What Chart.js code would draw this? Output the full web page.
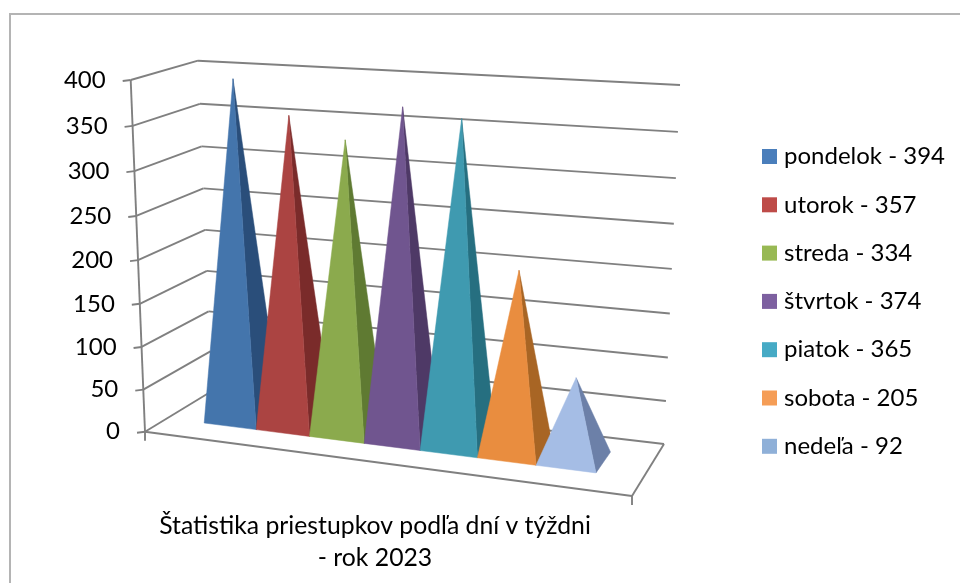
<!DOCTYPE html>
<html>
<head>
<meta charset="utf-8">
<script src="https://cdn.jsdelivr.net/npm/chart.js@4"></script>
<style>
  html, body { margin: 0; background: #fff; }
  canvas { display: block; }
</style>
</head>
<body>
<canvas id="chart" width="960" height="583"></canvas>
<script>
const days = ["pondelok", "utorok", "streda", "štvrtok", "piatok", "sobota", "nedeľa"];
const counts = [394, 357, 334, 374, 365, 205, 92];
const frontColors = ["#4475AC", "#AB4442", "#8BAA4D", "#70558F", "#3F9AB0", "#E98D3F", "#A5BDE5"];
const sideColors = ["#2A4E7A", "#7A2B2A", "#5F7A32", "#4E3966", "#266F80", "#A86524", "#6C80A8"];
const legendColors = ["#4A7EBB", "#BE4B48", "#98B954", "#7D60A0", "#46AAC5", "#F59D56", "#8FB0D8"];
const titleLines = ["Štatistika priestupkov podľa dní v týždni", "- rok 2023"];

const GRID = "#808080";
const FONT = "Lato";

// corners of the 3d box on screen: front/back, left/right, floor/top
const box = {
  fl0: [145, 431.7], fr0: [632, 496], bl0: [212, 391], br0: [664, 444],
  fl1: [130.7, 80], fr1: [648, 111], bl1: [198, 60.7], br1: [680, 85]
};

function mix(a, b, t) {
  return [a[0] + (b[0] - a[0]) * t, a[1] + (b[1] - a[1]) * t];
}

// u along the days, w into the depth, t up the value axis (all 0..1)
function project(u, w, t) {
  const h = t / (t + 1.05 * (1 - t)); // slight perspective on the height
  const floor = mix(mix(box.fl0, box.fr0, u), mix(box.bl0, box.br0, u), w);
  const top = mix(mix(box.fl1, box.fr1, u), mix(box.bl1, box.br1, u), w);
  return mix(floor, top, h);
}

function line(ctx, a, b) {
  ctx.beginPath();
  ctx.moveTo(a[0], a[1]);
  ctx.lineTo(b[0], b[1]);
  ctx.stroke();
}

function face(ctx, pts, color) {
  ctx.fillStyle = color;
  ctx.strokeStyle = color;
  ctx.lineWidth = 0.5;
  ctx.beginPath();
  pts.forEach((p, i) => i ? ctx.lineTo(p[0], p[1]) : ctx.moveTo(p[0], p[1]));
  ctx.closePath();
  ctx.fill();
  ctx.stroke();
}

const pyramid3d = {
  id: "pyramid3d",
  beforeDatasetsDraw(chart) {
    const ctx = chart.ctx;
    const yScale = chart.scales.y;
    const xScale = chart.scales.x;
    const yFrac = v => (yScale.bottom - yScale.getPixelForValue(v)) / (yScale.bottom - yScale.top);
    // days are a bit wider towards the viewer, on the right
    const uFrac = px => {
      const f = (px - xScale.left) / xScale.width;
      return 0.078 + 0.756 * f + 0.068 * f * f;
    };

    ctx.save();

    // outer frame
    ctx.strokeStyle = "#B4B4B4";
    ctx.lineWidth = 2;
    ctx.beginPath();
    ctx.moveTo(10, 583);
    ctx.lineTo(10, 14);
    ctx.lineTo(960, 14);
    ctx.stroke();

    // walls, floor and value axis
    ctx.strokeStyle = GRID;
    ctx.lineWidth = 1.9;
    yScale.ticks.forEach(tick => {
      const t = yFrac(tick.value);
      const front = project(0, 0, t);
      const back = project(0, 1, t);
      line(ctx, front, back);
      line(ctx, back, project(1, 1, t));
      line(ctx, [front[0] - 8, front[1] + 1], front);
    });
    line(ctx, project(0, 0, 0), project(0, 0, 1));
    line(ctx, project(0, 0, 0), project(1, 0, 0));
    line(ctx, project(1, 0, 0), project(1, 1, 0));
    line(ctx, project(0, 0, 0), [box.fl0[0], box.fl0[1] + 9]);
    line(ctx, project(1, 0, 0), [box.fr0[0], box.fr0[1] + 9]);

    // tick labels follow the slanted axis
    ctx.fillStyle = "#000";
    ctx.font = "24px " + FONT;
    ctx.textAlign = "right";
    ctx.textBaseline = "middle";
    yScale.ticks.forEach(tick => {
      const p = project(0, 0, yFrac(tick.value));
      ctx.fillText(tick.label, p[0] - 25, p[1]);
    });

    // pyramids, left one first so the next covers its dark side
    const w0 = 0.33, w1 = 0.74;
    const dataset = chart.data.datasets[0];
    chart.getDatasetMeta(0).data.forEach((bar, i) => {
      const u0 = uFrac(bar.x - bar.width / 2);
      const u1 = uFrac(bar.x + bar.width / 2);
      const apex = project((u0 + u1) / 2, (w0 + w1) / 2, yFrac(dataset.data[i]));
      const fl = project(u0, w0, 0);
      const fr = project(u1, w0, 0);
      const br = project(u1, w1, 0);
      face(ctx, [fr, br, apex], sideColors[i]);
      face(ctx, [fl, fr, apex], dataset.backgroundColor[i]);
    });

    // legend
    ctx.textAlign = "left";
    days.forEach((day, i) => {
      const y = 156.5 + i * 48.3;
      ctx.fillStyle = legendColors[i];
      ctx.fillRect(762, y - 7.5, 15, 15);
      ctx.fillStyle = "#000";
      ctx.fillText(day + " - " + counts[i], 784, y);
    });

    ctx.restore();
    return false; // the flat bars are not drawn
  }
};

new Chart(document.getElementById("chart"), {
  type: "bar",
  data: {
    labels: days,
    datasets: [{
      data: counts,
      backgroundColor: frontColors,
      categoryPercentage: 1,
      barPercentage: 1
    }]
  },
  plugins: [pyramid3d],
  options: {
    responsive: false,
    animation: false,
    layout: { padding: { right: 210, bottom: 9 } },
    scales: {
      x: { display: false },
      y: { display: false, min: 0, max: 400, ticks: { stepSize: 50 } }
    },
    plugins: {
      legend: { display: false },
      tooltip: { enabled: false },
      title: {
        display: true,
        position: "bottom",
        text: titleLines,
        color: "#000",
        font: { family: FONT, size: 24.75, weight: "normal", lineHeight: 1.29 },
        padding: 0
      }
    }
  }
});
</script>
</body>
</html>
